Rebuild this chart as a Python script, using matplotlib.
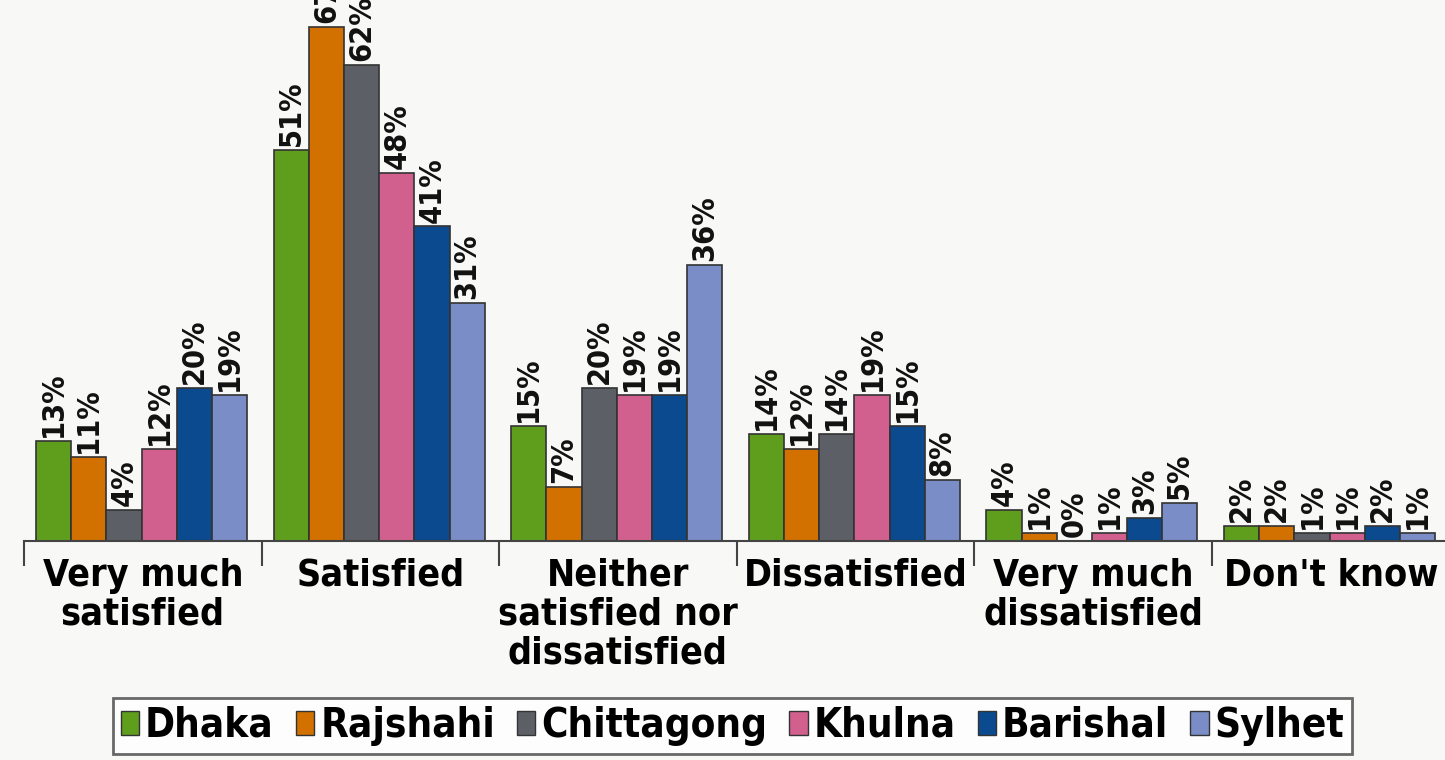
import matplotlib.pyplot as plt
import numpy as np
from matplotlib.patches import Patch
from matplotlib import font_manager as fm

categories = ["Very much\nsatisfied", "Satisfied", "Neither\nsatisfied nor\ndissatisfied",
              "Dissatisfied", "Very much\ndissatisfied", "Don't know"]
regions = ["Dhaka", "Rajshahi", "Chittagong", "Khulna", "Barishal", "Sylhet"]
dhaka = [13, 51, 15, 14, 4, 2]
rajshahi = [11, 67, 7, 12, 1, 2]
chittagong = [4, 62, 20, 14, 0, 1]
khulna = [12, 48, 19, 19, 1, 1]
barishal = [20, 41, 19, 15, 3, 2]
sylhet = [19, 31, 36, 8, 5, 1]
series = [dhaka, rajshahi, chittagong, khulna, barishal, sylhet]
colors = ["#5e9e1c", "#d27000", "#5c6066", "#d2608e", "#0b4a8e", "#7a8dc6"]

# pick a narrow bold font if one is installed
names = {f.name for f in fm.fontManager.ttflist}
if "Liberation Sans Narrow" in names:
    plt.rcParams['font.family'] = ['Liberation Sans Narrow', 'DejaVu Sans']
else:
    plt.rcParams['font.family'] = ['DejaVu Sans']
    plt.rcParams['font.stretch'] = 'condensed'
plt.rcParams['font.weight'] = 'bold'

bg = "#f8f8f6"
fig = plt.figure(figsize=(14.45, 7.6), dpi=100, facecolor=bg)
ax = fig.add_axes([0, 1 - 541 / 760, 1, 541 / 760])
ax.set_facecolor(bg)

x = np.arange(len(categories))
w = 0.148
for i, (vals, col) in enumerate(zip(series, colors)):
    pos = x + (i - 2.5) * w - 0.005
    ax.bar(pos, vals, w, color=col, edgecolor="#333333", linewidth=1.2, label=regions[i])
    for p, v in zip(pos, vals):
        ax.text(p, v + 0.5, f"{v}%", rotation=90, ha="center", va="bottom",
                fontsize=22, fontweight="bold", color="#111111")

ax.set_xlim(-0.601, 5.481)
ax.set_ylim(0, 70.5)
for s in ["top", "right", "left"]:
    ax.spines[s].set_visible(False)
ax.spines["bottom"].set_color("#444444")
ax.spines["bottom"].set_linewidth(1.5)
ax.spines["bottom"].set_bounds(-0.5, 5.6)
ax.set_yticks([])
ax.set_xticks(x)
ax.set_xticklabels(categories, fontsize=27, fontweight="bold", va="top", linespacing=1.1)
ax.tick_params(axis="x", which="major", length=0, pad=12)
ax.set_xticks(np.arange(-0.5, 5.5, 1.0), minor=True)
ax.tick_params(axis="x", which="minor", length=18, width=1.5, color="#444444", direction="out")

handles = [Patch(facecolor=c, edgecolor="#333333", label=r) for c, r in zip(colors, regions)]
leg = fig.legend(handles=handles, loc="lower center", bbox_to_anchor=(0.507, -0.008), ncol=6,
                 frameon=True, fancybox=False, fontsize=29, handlelength=0.45, handleheight=0.55,
                 handletextpad=0.15, columnspacing=0.55, borderpad=0.2, borderaxespad=0.3)
leg.get_frame().set_edgecolor("#444444")
leg.get_frame().set_linewidth(2)
leg.get_frame().set_facecolor("white")
for t in leg.get_texts():
    t.set_fontweight("bold")

fig.savefig("out.png", dpi=100, facecolor=bg)
